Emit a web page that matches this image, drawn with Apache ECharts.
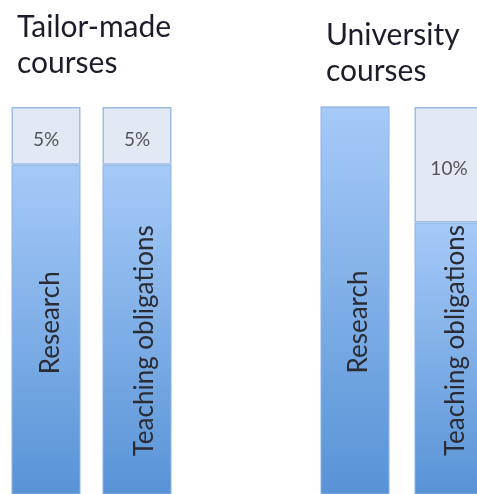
<!DOCTYPE html>
<html><head><meta charset="utf-8">
<script src="https://cdn.jsdelivr.net/npm/echarts@6/dist/echarts.min.js"></script>
<style>html,body{margin:0;padding:0;background:#fff}#c{width:477px;height:494px}</style>
</head><body><div id="c"></div>
<script>
// ---- data ----
const groupTitles = ['Tailor-made\ncourses', 'University\ncourses'];
const categories = ['Research', 'Teaching obligations'];
const mainShare = [[95, 95], [100, 90]];   // lower (blue) segment, %
const otherShare = [[5, 5], [0, 10]];      // upper (grey) segment, %

// ---- styling ----
const FONT = 'Lato';
const grids = [
  { left: 0.5, top: 107, width: 182, bottom: 0, outerBoundsMode: 'none', containLabel: false },
  { left: 308, top: 107, width: 188, bottom: 0, outerBoundsMode: 'none', containLabel: false }
];
// label anchor inside each lower bar, px relative to the visible bar rect
const catLabelPos = [
  [[39, 158], [42, 176]],
  [[38, 215], [41, 118]]
];
const blueGrad = { type: 'linear', x: 0, y: 0, x2: 0, y2: 1,
  colorStops: [{ offset: 0, color: '#A6CAF8' }, { offset: 1, color: '#5893D6' }] };

const option = {
  animation: false,
  backgroundColor: '#fff',
  title: groupTitles.map((t, i) => ({
    text: t, left: i === 0 ? 17 : 326, top: i === 0 ? 9 : 17,
    padding: 0,
    textStyle: { fontFamily: FONT, fontSize: 30, fontWeight: 'normal', color: '#1c1c2a', lineHeight: 36 }
  })),
  grid: grids,
  xAxis: grids.map((g, i) => ({
    type: 'category', gridIndex: i, data: categories,
    show: false, boundaryGap: true
  })),
  yAxis: grids.map((g, i) => ({
    type: 'value', gridIndex: i, min: 66.5, max: 100, show: false
  })),
  series: []
};

grids.forEach((g, gi) => {
  option.series.push({
    type: 'bar', stack: 's' + gi, xAxisIndex: gi, yAxisIndex: gi,
    barWidth: 69, clip: true,
    data: mainShare[gi].map((v, ci) => ({
      value: v,
      label: { position: catLabelPos[gi][ci] }
    })),
    itemStyle: { color: blueGrad, borderColor: '#8EB3E0', borderWidth: 1 },
    label: {
      show: true, rotate: 90, align: 'center', verticalAlign: 'middle',
      formatter: p => categories[p.dataIndex],
      fontFamily: FONT, fontSize: 26, color: '#2b2b33'
    }
  });
  option.series.push({
    type: 'bar', stack: 's' + gi, xAxisIndex: gi, yAxisIndex: gi,
    barWidth: 69, clip: true,
    data: otherShare[gi],
    itemStyle: { color: '#E2E9F4', borderColor: '#9DBDE5', borderWidth: 1.5 },
    label: {
      show: true, position: 'inside', offset: [0, 4],
      formatter: p => p.value ? p.value + '%' : '',
      fontFamily: FONT, fontSize: 19, color: '#555'
    }
  });
});

const chart = echarts.init(document.getElementById('c'), null, { renderer: 'canvas' });
chart.setOption(option);
</script>
</body></html>
